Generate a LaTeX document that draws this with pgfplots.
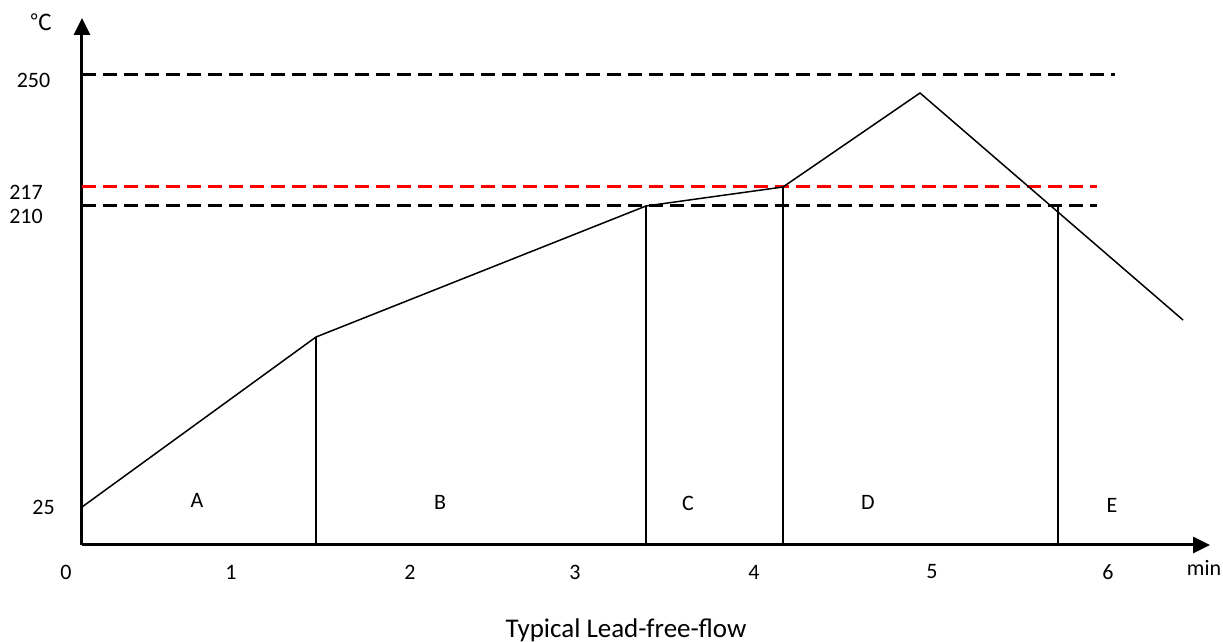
\documentclass[border=0pt]{standalone}
\usepackage{fontspec}
\setmainfont{Carlito}
\newfontfamily\cjk{Noto Sans CJK SC}
\usepackage{pgfplots}
\pgfplotsset{compat=1.18}
\usetikzlibrary{arrows.meta}

% schematic reflow profile, drawing units (not to scale)
\pgfplotstableread{
x y
0 38
234 208
564 339
701 358
838 452
1101 225
}\profile

\tikzset{lbl/.style={font=\fontsize{22}{22}\selectfont}}

\begin{document}
\begin{tikzpicture}
\path[use as bounding box] (0,0) rectangle (1223pt,642pt);
\begin{axis}[
    at={(82pt,97pt)}, anchor=origin,
    x=1pt, y=1pt,
    xmin=0, xmax=1128, ymin=0, ymax=527,
    axis lines=left,
    axis line style={line width=3pt, -{Triangle[length=17pt,width=16pt]}},
    xtick=\empty, ytick=\empty,
    clip=false,
]
\addplot[black, line width=3pt, dash pattern=on 14pt off 7pt] coordinates {(0,470) (1033,470)};
\addplot[red, line width=3pt, dash pattern=on 14pt off 7pt] coordinates {(0,358) (1015,358)};
\addplot[black, line width=3pt, dash pattern=on 14pt off 7pt] coordinates {(0,339) (1015,339)};
\addplot[black, line width=1.5pt] table {\profile};
\addplot[black, line width=1.5pt] coordinates {(234,0) (234,208)};
\addplot[black, line width=1.5pt] coordinates {(564,0) (564,339)};
\addplot[black, line width=1.5pt] coordinates {(701,0) (701,358)};
\addplot[black, line width=1.5pt] coordinates {(976,0) (976,339)};

\node[lbl] at (-48.5,465) {250};
\node[lbl] at (-56,353) {217};
\node[lbl] at (-56,329) {210};
\node[lbl] at (-38.5,38) {25};
\node[lbl] at (-40,523) {\cjk ℃};

\node[lbl] at (-16,-27) {0};
\node[lbl] at (149,-27) {1};
\node[lbl] at (328,-27) {2};
\node[lbl] at (493,-27) {3};
\node[lbl] at (672,-27) {4};
\node[lbl] at (850,-27) {5};
\node[lbl] at (1026,-27) {6};
\node[lbl] at (1122,-23) {min};

\node[lbl] at (115,45) {A};
\node[lbl] at (358,43) {B};
\node[lbl] at (606,42) {C};
\node[lbl] at (786,43) {D};
\node[lbl] at (1030,40) {E};

\node[font=\fontsize{27}{27}\selectfont, anchor=base] at (544,-92) {Typical Lead-free-flow};
\end{axis}
\end{tikzpicture}
\end{document}
